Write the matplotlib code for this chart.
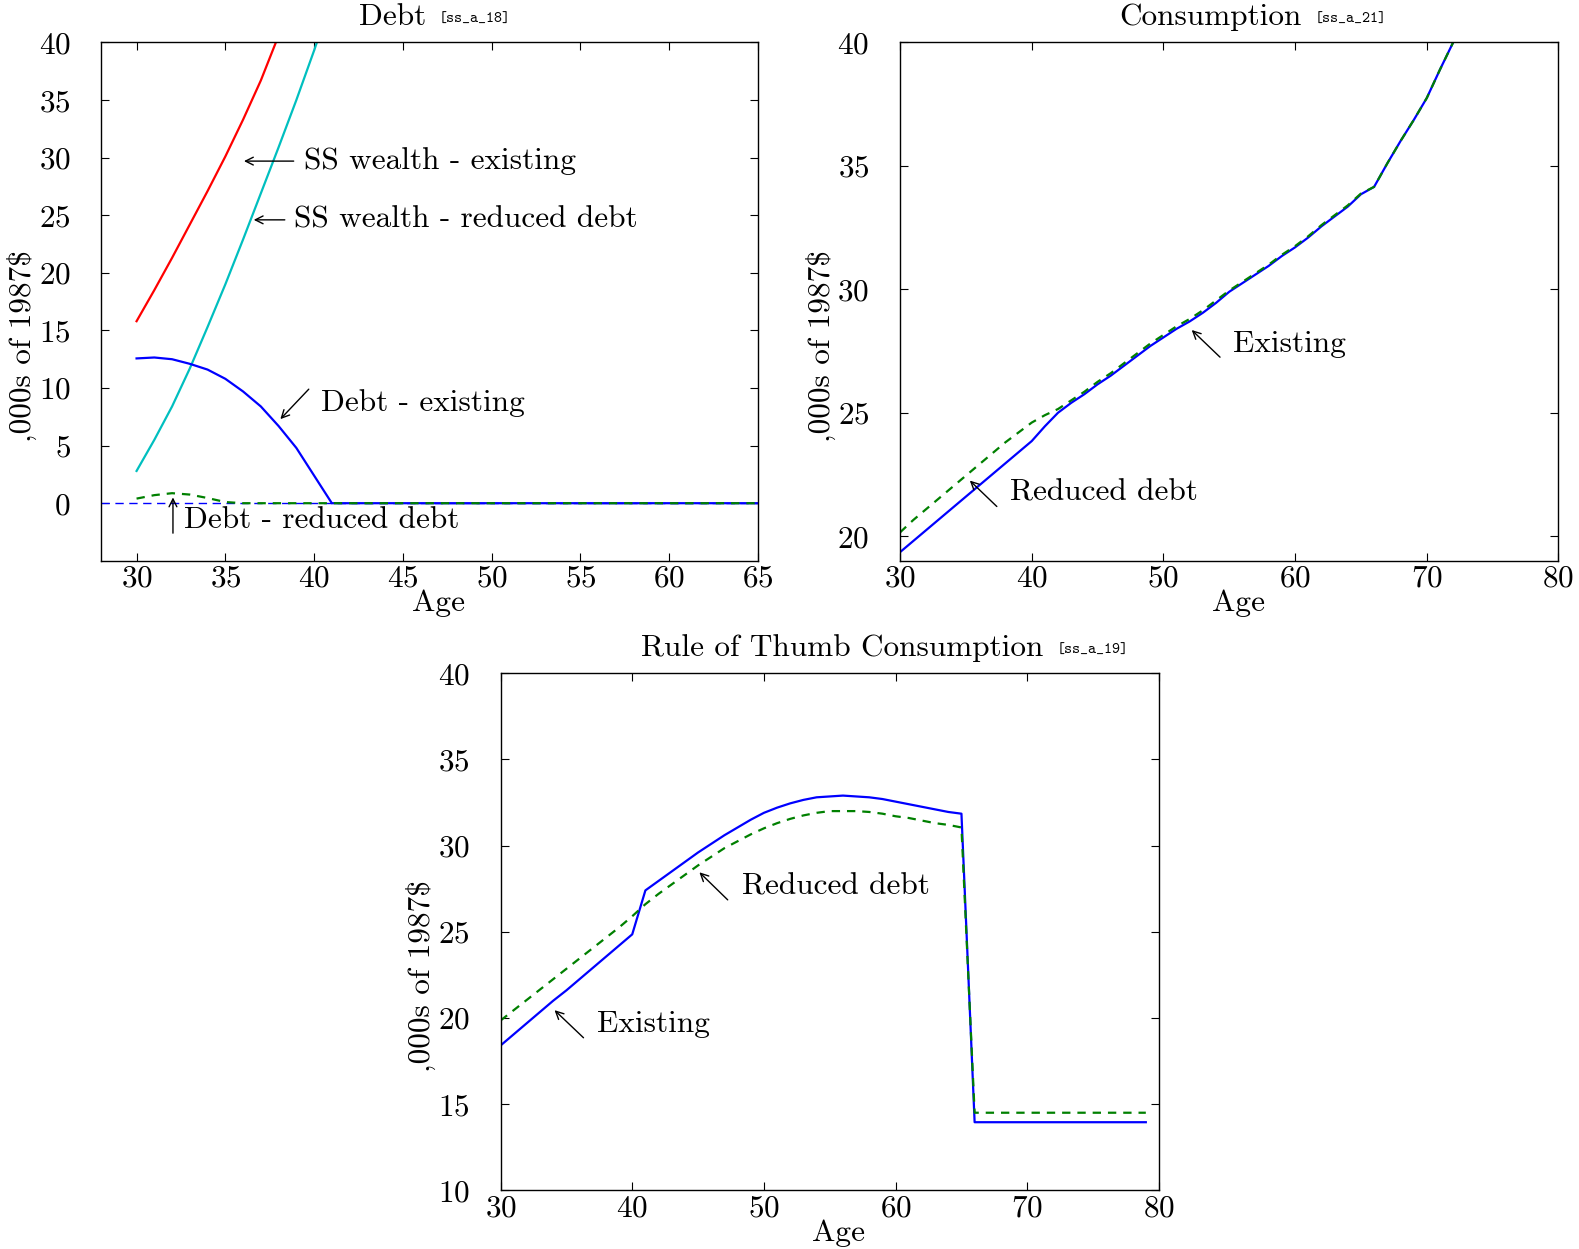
import matplotlib
matplotlib.use('Agg')
import matplotlib.pyplot as plt

plt.rcParams['font.family'] = ['cmr10', 'DejaVu Serif']
plt.rcParams['mathtext.fontset'] = 'cm'
plt.rcParams['axes.formatter.use_mathtext'] = True
plt.rcParams['axes.unicode_minus'] = False
plt.rcParams['lines.scale_dashes'] = False

# ---- data ----
# Debt panel
age_debt = list(range(30, 66))
ss_wealth_existing = [15.8, 18.5, 21.3, 24.2, 27.1, 30.1, 33.3, 36.7, 40.6, 44.6]
ss_wealth_reduced = [2.8, 5.5, 8.4, 11.7, 15.3, 19.0, 22.9, 26.9, 30.9, 35.0, 39.3, 43.8]
debt_existing = [12.57, 12.65, 12.5, 12.1, 11.6, 10.8, 9.7, 8.4, 6.7, 4.8, 2.4] + [0.0] * 25
debt_reduced = [0.4, 0.7, 0.87, 0.75, 0.45, 0.1] + [0.0] * 30

# Consumption panel
age_cons = list(range(30, 74))
cons_existing = [19.35, 19.8, 20.25, 20.7, 21.15, 21.6, 22.05, 22.5, 22.95, 23.4,
                 23.85, 24.45, 25.0, 25.4, 25.75, 26.15, 26.5, 26.9, 27.3, 27.7,
                 28.05, 28.4, 28.7, 29.05, 29.45, 29.9, 30.25, 30.6, 30.95, 31.35,
                 31.7, 32.1, 32.55, 32.95, 33.35, 33.85, 34.15, 35.1, 36.0, 36.85,
                 37.75, 38.9, 40.0, 41.2]
cons_reduced = [20.15, 20.65, 21.1, 21.55, 22.0, 22.45, 22.9, 23.35, 23.8, 24.2,
                24.6, 24.9, 25.15, 25.5, 25.85, 26.25, 26.6, 27.0, 27.4, 27.8,
                28.15, 28.5, 28.8, 29.15, 29.55, 29.95, 30.3, 30.65, 31.0, 31.4,
                31.75, 32.15, 32.6, 33.0, 33.4, 33.88, 34.15, 35.1, 36.0, 36.85,
                37.75, 38.9, 40.0, 41.2]

# Rule of thumb panel
age_rot = list(range(30, 80))
rot_existing = [18.4, 19.05, 19.7, 20.35, 21.0, 21.6, 22.25, 22.9, 23.55, 24.2,
                24.85, 27.4, 27.95, 28.5, 29.05, 29.6, 30.1, 30.6, 31.05, 31.5,
                31.9, 32.2, 32.45, 32.65, 32.8, 32.85, 32.9, 32.85, 32.8, 32.7,
                32.55, 32.4, 32.25, 32.1, 31.95, 31.85] + [13.95] * 14
rot_reduced = [19.85, 20.45, 21.05, 21.65, 22.25, 22.85, 23.45, 24.05, 24.65, 25.25,
               25.9, 26.6, 27.2, 27.75, 28.3, 28.85, 29.35, 29.85, 30.25, 30.65,
               31.0, 31.3, 31.55, 31.75, 31.9, 32.0, 32.0, 32.0, 31.95, 31.85,
               31.7, 31.6, 31.45, 31.3, 31.2, 31.05] + [14.5] * 14

FS = 22.5
ylab = ',000s of 1987$'
arrow = dict(arrowstyle='->', color='k', lw=1, shrinkA=0, shrinkB=0, mutation_scale=14)


def style(ax):
    ax.tick_params(direction='in', top=True, right=True, length=6, labelsize=FS)
    ax.tick_params(axis='x', pad=3)
    ax.tick_params(axis='y', pad=22)
    for s in ax.spines.values():
        s.set_linewidth(1)
    ax.set_xlabel('Age', fontsize=FS, labelpad=-2.5)
    ax.xaxis.label.set_x(0.514)
    ax.set_ylabel(ylab, fontsize=FS)
    ax.yaxis.set_label_coords(-0.098, 0.415)


def note(ax, txt, head, tail, pos):
    ax.annotate('', xy=head, xytext=tail, arrowprops=arrow)
    ax.text(pos[0], pos[1], txt, fontsize=FS, va='center', ha='left')


def title(ax, main, tag, x0):
    t1 = ax.text(x0, 1.022, main, transform=ax.transAxes, fontsize=FS,
                 ha='left', va='bottom')
    ax.annotate(tag, xy=(1, 0), xycoords=t1, xytext=(9.5, 3),
                textcoords='offset points', fontsize=11,
                family=['cmtt10', 'DejaVu Sans Mono'], va='bottom', ha='left')


fig = plt.figure(figsize=(15.79, 12.49), dpi=100)
ax1 = fig.add_axes([0.064, 0.551, 0.416, 0.415])
ax2 = fig.add_axes([0.570, 0.551, 0.417, 0.415])
ax3 = fig.add_axes([0.317, 0.047, 0.417, 0.414])

# Debt
ax1.axhline(0, color='b', ls=(0, (6, 4)), lw=1)
ax1.plot(age_debt[:len(ss_wealth_existing)], ss_wealth_existing, color='r', lw=1.6)
ax1.plot(age_debt[:len(ss_wealth_reduced)], ss_wealth_reduced, color='c', lw=1.6)
ax1.plot(age_debt, debt_existing, color='b', lw=1.6)
ax1.plot(age_debt, debt_reduced, color='g', lw=1.6, ls=(0, (6, 5)))
ax1.set_xlim(28, 65)
ax1.set_ylim(-5, 40)
ax1.set_xticks(range(30, 66, 5))
ax1.set_yticks(range(0, 41, 5))
style(ax1)
note(ax1, 'SS wealth - existing', (36.05, 29.7), (38.85, 29.7), (39.45, 29.7))
note(ax1, 'SS wealth - reduced debt', (36.6, 24.6), (38.35, 24.6), (38.85, 24.6))
note(ax1, 'Debt - existing', (38.1, 7.3), (39.7, 9.9), (40.4, 8.7))
note(ax1, 'Debt - reduced debt', (32.05, 0.5), (32.05, -2.6), (32.65, -1.5))

# Consumption
ax2.plot(age_cons, cons_existing, color='b', lw=1.6)
ax2.plot(age_cons, cons_reduced, color='g', lw=1.6, ls=(0, (6, 5)))
ax2.set_xlim(30, 80)
ax2.set_ylim(19, 40)
ax2.set_xticks(range(30, 81, 10))
ax2.set_yticks(range(20, 41, 5))
style(ax2)
note(ax2, 'Existing', (52.15, 28.35), (54.3, 27.25), (55.3, 27.8))
note(ax2, 'Reduced debt', (35.3, 22.25), (37.35, 21.2), (38.35, 21.75))

# Rule of thumb
ax3.plot(age_rot, rot_existing, color='b', lw=1.6)
ax3.plot(age_rot, rot_reduced, color='g', lw=1.6, ls=(0, (6, 5)))
ax3.set_xlim(30, 80)
ax3.set_ylim(10, 40)
ax3.set_xticks(range(30, 81, 10))
ax3.set_yticks(range(10, 41, 5))
style(ax3)
note(ax3, 'Reduced debt', (45.1, 28.45), (47.25, 26.85), (48.3, 27.65))
note(ax3, 'Existing', (34.1, 20.45), (36.3, 18.85), (37.3, 19.65))

title(ax1, 'Debt', '[ss_a_18]', 0.392)
title(ax2, 'Consumption', '[ss_a_21]', 0.333)
title(ax3, 'Rule of Thumb Consumption', '[ss_a_19]', 0.214)

fig.savefig('out.png', dpi=100)
